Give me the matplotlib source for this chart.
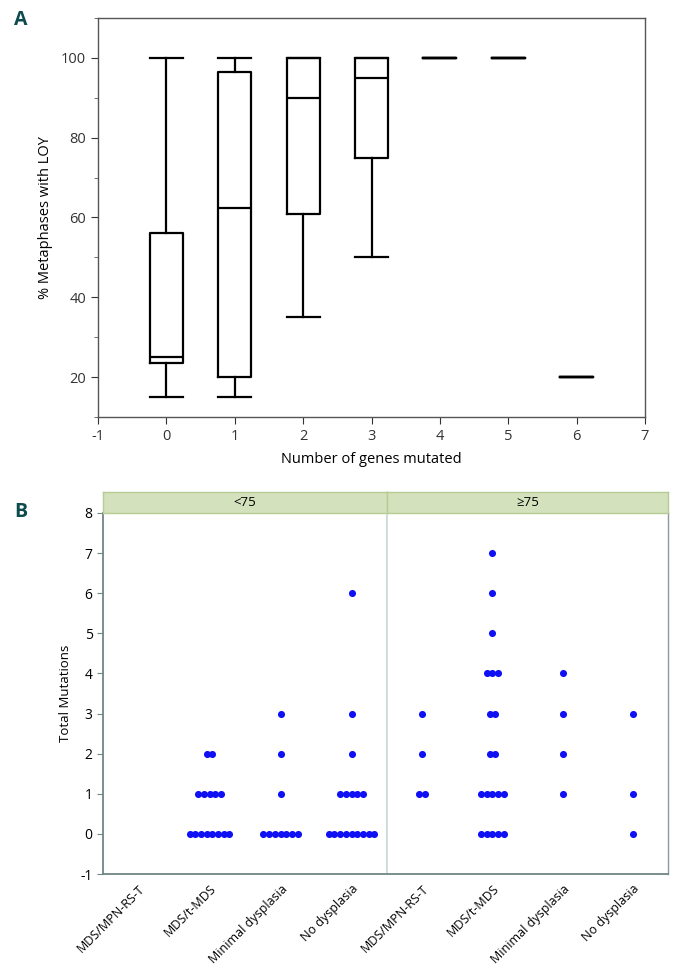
import matplotlib.pyplot as plt
import numpy as np
from matplotlib.ticker import MultipleLocator

plt.rcParams["font.family"] = ["Open Sans", "DejaVu Sans"]
plt.rcParams["axes.unicode_minus"] = False

# Panel A: box plot summaries per number of genes mutated
genes = [0, 1, 2, 3, 4, 5, 6]
whislo = [15, 15, 35, 50, 100, 100, 20]
q1 = [23.5, 20, 61, 75, 100, 100, 20]
med = [25, 62.5, 90, 95, 100, 100, 20]
q3 = [56, 96.5, 100, 100, 100, 100, 20]
whishi = [100, 100, 100, 100, 100, 100, 20]

# Panel B: total mutations per patient, by age group and diagnosis
categories = ["MDS/MPN-RS-T", "MDS/t-MDS", "Minimal dysplasia", "No dysplasia"]
age_groups = ["<75", "≥75"]
under75 = [
    [],
    [0] * 8 + [1] * 5 + [2] * 2,
    [0] * 7 + [1, 2, 3],
    [0] * 9 + [1] * 5 + [2, 3, 6],
]
over75 = [
    [1, 1, 2, 3],
    [0] * 5 + [1] * 5 + [2] * 2 + [3] * 2 + [4] * 3 + [5, 6, 7],
    [1, 2, 3, 4],
    [0, 1, 3],
]

W, H = 678, 969
fig = plt.figure(figsize=(W / 100, H / 100), dpi=100)


def box(l, t, r, b):
    # pixel box -> figure fraction rect
    return [l / W, 1 - b / H, (r - l) / W, (b - t) / H]


# ---- panel A
axA = fig.add_axes(box(98, 18, 645, 417))
stats = []
for i in range(len(genes)):
    stats.append(dict(med=med[i], q1=q1[i], q3=q3[i], whislo=whislo[i],
                      whishi=whishi[i], fliers=[]))
lw = 1.6
axA.bxp(stats, positions=genes, widths=0.48, showfliers=False,
        boxprops=dict(color="black", linewidth=lw),
        whiskerprops=dict(color="black", linewidth=lw),
        capprops=dict(color="black", linewidth=lw),
        medianprops=dict(color="black", linewidth=lw),
        capwidths=0.48)
axA.set_xlim(-1, 7)
axA.set_ylim(10, 110)
axA.set_xticks(range(-1, 8))
axA.set_xticklabels([str(v) for v in range(-1, 8)])
axA.set_yticks([20, 40, 60, 80, 100])
axA.yaxis.set_minor_locator(MultipleLocator(10))
for s in axA.spines.values():
    s.set_color("#555555")
    s.set_linewidth(1.0)
axA.tick_params(colors="#333333", labelsize=10.5, length=5)
axA.tick_params(which="minor", length=3, colors="#555555")
axA.set_xlabel("Number of genes mutated", fontsize=10.5, labelpad=6)
axA.set_ylabel("% Metaphases with LOY", fontsize=10.5, labelpad=6)

fig.text(14 / W, 1 - 20 / H, "A", fontsize=14, fontweight="bold",
         color="#0d4b4e", ha="left", va="center")
fig.text(14 / W, 1 - 512 / H, "B", fontsize=14, fontweight="bold",
         color="#0d4b4e", ha="left", va="center")

# ---- panel B
frame = "#6f8686"
light = "#c9dcd8"
spans = [(103, 387), (387, 668)]
spacing = 0.08
for k, (group, data) in enumerate(zip(age_groups, [under75, over75])):
    l, r = spans[k]
    ax = fig.add_axes(box(l, 513, r, 874))
    for c, vals in enumerate(data):
        vals = np.array(vals)
        for level in np.unique(vals):
            n = int(np.sum(vals == level))
            xs = c + 0.5 + (np.arange(n) - (n - 1) / 2) * spacing
            ax.scatter(xs, [level] * n, s=26, color="#1010f5", linewidths=0,
                       zorder=3, clip_on=False)
    ax.set_xlim(0, 4)
    ax.set_ylim(-1, 8)
    ax.set_xticks(np.arange(4) + 0.5)
    ax.set_xticklabels(categories, rotation=45, ha="right",
                       rotation_mode="anchor", fontsize=9)
    ax.tick_params(axis="x", length=0, pad=6)
    ax.spines["top"].set_visible(False)
    ax.spines["bottom"].set_color(frame)
    ax.spines["bottom"].set_linewidth(1.3)
    if k == 0:
        ax.spines["left"].set_color(frame)
        ax.spines["left"].set_linewidth(1.3)
        ax.spines["right"].set_color(light)
        ax.spines["right"].set_linewidth(1.2)
        ax.set_yticks(range(-1, 9))
        ax.tick_params(axis="y", colors=frame, labelcolor="black",
                       labelsize=10, length=4)
        ax.set_ylabel("Total Mutations", fontsize=9.5, labelpad=6)
    else:
        ax.spines["left"].set_color(light)
        ax.spines["left"].set_linewidth(1.2)
        ax.spines["right"].set_color("#8a9a9a")
        ax.spines["right"].set_linewidth(1.0)
        ax.set_yticks([])
    # facet header strip
    hdr = fig.add_axes(box(l, 492, r, 513))
    hdr.set_facecolor("#d4e1bd")
    hdr.set_xticks([])
    hdr.set_yticks([])
    for s in hdr.spines.values():
        s.set_color("#b7cc92")
        s.set_linewidth(1.0)
    hdr.text(0.5, 0.5, group, ha="center", va="center", fontsize=9.5,
             transform=hdr.transAxes)

fig.savefig("out.png", dpi=100)
